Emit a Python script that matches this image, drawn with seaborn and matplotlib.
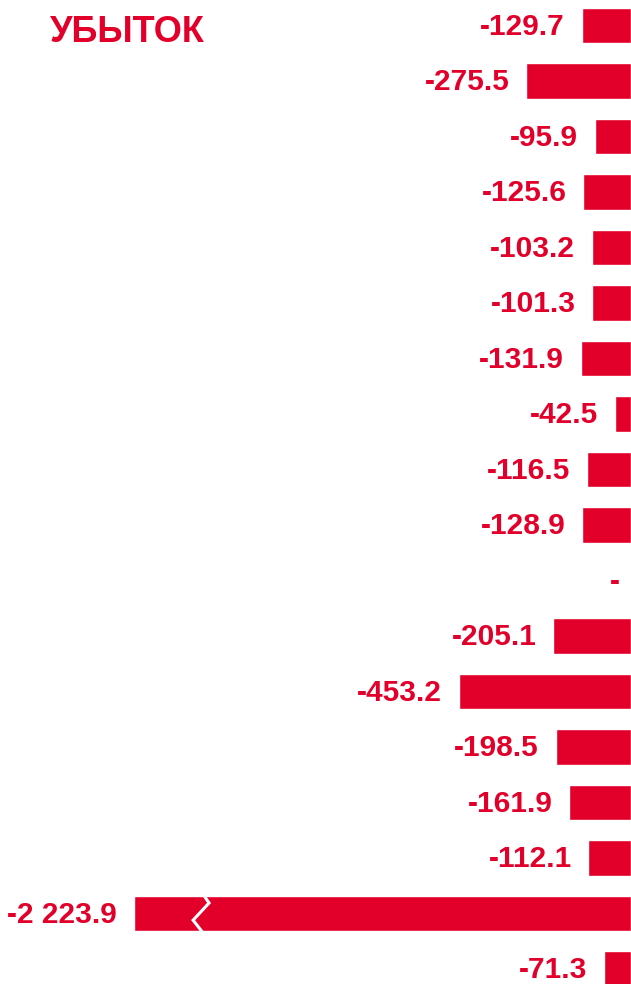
import numpy as np
import pandas as pd
import matplotlib
matplotlib.use("Agg")
import matplotlib.pyplot as plt
import seaborn as sns

# данные
rows = list(range(18))
values = [-129.7, -275.5, -95.9, -125.6, -103.2, -101.3, -131.9, -42.5, -116.5,
          -128.9, np.nan, -205.1, -453.2, -198.5, -161.9, -112.1, -2223.9, -71.3]
labels = ["-129.7", "-275.5", "-95.9", "-125.6", "-103.2", "-101.3", "-131.9", "-42.5",
          "-116.5", "-128.9", "-", "-205.1", "-453.2", "-198.5", "-161.9", "-112.1",
          "-2 223.9", "-71.3"]
title = "УБЫТОК"

# длинный столбец рисуется с разрывом
cap = -1308
break_at = -1126

red = "#E2002A"

sns.set_theme(style="white")
plt.rcParams["font.family"] = ["Liberation Sans", "DejaVu Sans"]

shown = [max(v, cap) if not np.isnan(v) else np.nan for v in values]
df = pd.DataFrame({"row": rows, "value": shown})

fig = plt.figure(figsize=(6.31, 9.84), dpi=100)
ax = fig.add_axes([0, 0, 1, 1])
sns.barplot(data=df, x="value", y="row", orient="h", order=rows, color=red,
            saturation=1, width=0.635, ax=ax)

ax.set_xlim(-1660, 0)
ax.set_ylim(17.27, -0.46)
ax.axis("off")

for i, (v, lab) in enumerate(zip(shown, labels)):
    if np.isnan(v):
        ax.text(-30, i + 0.02, lab, ha="right", va="center", color=red,
                fontsize=21.5, fontweight="bold")
    else:
        ax.text(v - 44, i + 0.02, lab, ha="right", va="center", color=red,
                fontsize=21.5, fontweight="bold")

# разрыв на большом столбце
i_big = values.index(min(v for v in values if not np.isnan(v)))
h = 0.635 / 2
zx = [break_at, break_at + 16, break_at - 26, break_at]
zy = [i_big - h - 0.03, i_big - 0.19, i_big + 0.12, i_big + h + 0.03]
ax.plot(zx, zy, color="white", lw=2.2, solid_joinstyle="miter")

fig.text(0.079, 0.967, title, ha="left", va="center", color=red,
         fontsize=26, fontweight="bold")

fig.savefig("out.png", dpi=100)
